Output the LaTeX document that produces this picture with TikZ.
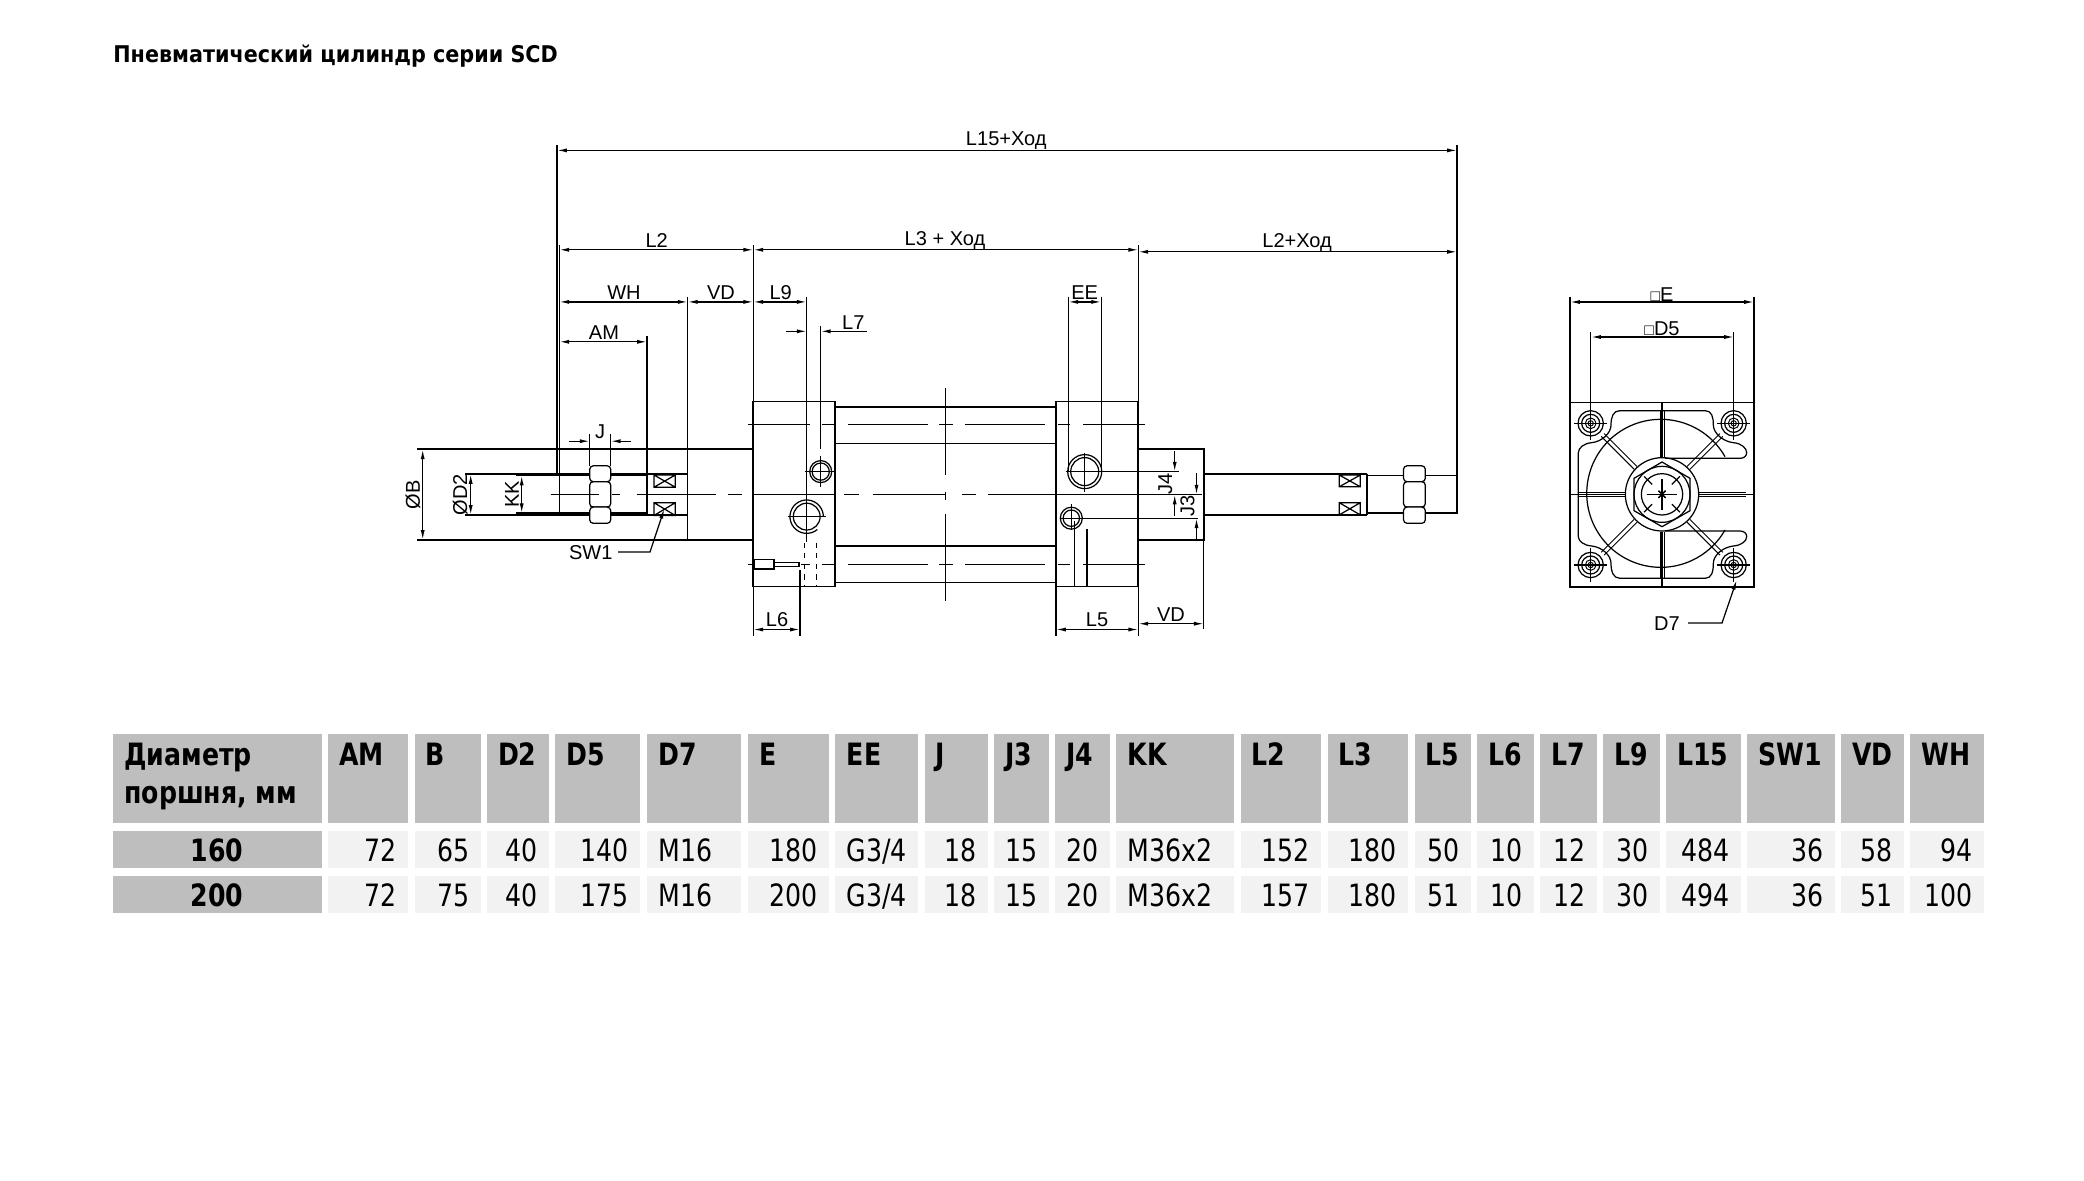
\documentclass[tikz,border=0pt]{standalone}
\usepackage{fontspec}
\setmainfont{Liberation Sans}
\newfontfamily\tablefont[FakeStretch=0.82]{DejaVu Sans}
\newfontfamily\titlefont[FakeStretch=0.9]{DejaVu Sans}
\usetikzlibrary{arrows.meta}
\newcommand{\tablesize}{\fontsize{17.5pt}{21pt}\selectfont}
\newcommand{\gthread}{G3/4}
\tikzstyle{part}=[draw,line width=0.95pt]
\tikzstyle{fine}=[draw,line width=0.7pt]
\tikzstyle{axis}=[draw,line width=0.75pt]
\tikzstyle{dim}=[draw,line width=0.7pt,{Latex[length=5.6pt,width=2.3pt]}-{Latex[length=5.6pt,width=2.3pt]}]
\tikzstyle{tip}=[draw,line width=0.7pt,-{Latex[length=5.6pt,width=2.3pt]}]
\tikzstyle{dimlabel}=[inner sep=0pt,font=\fontsize{11.4pt}{13pt}\selectfont,text height=8.1pt,text depth=0pt]
\tikzstyle{headfill}=[fill={rgb,255:red,190;green,190;blue,190}]
\tikzstyle{rowfill}=[fill={rgb,255:red,242;green,242;blue,242}]
\tikzstyle{headtext}=[anchor=base west,inner sep=0pt,font=\tablefont\tablesize\bfseries]
\tikzstyle{numtext}=[anchor=base east,inner sep=0pt,font=\tablefont\tablesize]
\tikzstyle{wordtext}=[anchor=base west,inner sep=0pt,font=\tablefont\tablesize]

\begin{document}
\begin{tikzpicture}[x=0.02cm,y=-0.02cm]
    \useasboundingbox (0,0) rectangle (2084,1180);
    \fill[white] (0,0) rectangle (2084,1180);
    \node[anchor=base west,inner sep=0pt,font=\titlefont\fontsize{13.1pt}{15pt}\selectfont\bfseries] (title) at (113,62) {Пневматический цилиндр серии SCD};

    % First we draw the body of the cylinder
    \foreach \xa/\ya/\xb/\yb in {753.3/401.6/835.3/586.5, 1056/401.6/1138.3/586.5, 1138.3/449.3/1203.8/539.9}
        \path[part] (\xa,\ya) rectangle (\xb,\yb);
    \foreach \xa/\xb/\yc in {835.3/1056/406.7, 835.3/1056/443.5, 835.3/1056/546, 835.3/1056/582.5,
        417.3/753.3/449.3, 417.3/753.3/539.9, 465/687.7/474, 465/687.7/514.9, 516/647/475.6, 516/647/513.2,
        1203.8/1366.8/474.3, 1203.8/1366.8/514.9, 1366.8/1457/475.6, 1366.8/1457/513.2,
        753.3/835.3/494.6, 1056/1201.5/494.6}
        \path[part] (\xa,\yc) -- (\xb,\yc);
    \path[part] (1366.8,474.3) -- (1366.8,514.9);

    % Nuts and wrench flats of the rod
    \foreach \xa/\xb in {589.7/610.7, 1403.5/1425.3} {
        \path[fine,fill=white,rounded corners=2pt] (\xa,465.8) rectangle (\xb,481.7);
        \path[fine,fill=white,rounded corners=2pt] (\xa,481.7) rectangle (\xb,507.1);
        \path[fine,fill=white,rounded corners=2pt] (\xa,507.1) rectangle (\xb,523.3);
    }
    \foreach \xa/\xb/\ya/\yb in {654/675.3/475/487.2, 654/675.3/502.7/515.5, 1339.2/1360.3/475/486.8, 1339.2/1360.3/502.7/514.9}
        \path[fine] (\xa,\ya) rectangle (\xb,\yb) (\xa,\ya) -- (\xb,\yb) (\xa,\yb) -- (\xb,\ya);

    % Center lines
    \foreach \xa/\xb in {550.7/599, 612.3/620, 636.7/715.7, 728.3/741.7, 844/859, 872.7/945.8, 962.3/975.7, 987.9/1056}
        \path[axis] (\xa,494.6) -- (\xb,494.6);
    \foreach \yc in {424.3,564.6}
        \foreach \xa/\xb in {848.3/927.8, 939.3/952.7, 965/1044.6, 1058/1070.2, 1082.8/1144.8, 821.7/835.3}
            \path[axis] (\xa,\yc) -- (\xb,\yc);
    \path[axis] (748.3,424.3) -- (810,424.3);
    \path[axis] (748.3,564.6) -- (757,564.6) (801,564.6) -- (810,564.6);
    \foreach \ya/\yb in {388.1/475, 491.9/500.3, 513.8/601}
        \path[axis] (945.8,\ya) -- (945.8,\yb);

    % Holes in the two caps
    \foreach \cx/\cy/\ra/\rb in {820.7/471.6/11/8.6, 1084.7/471.6/17/14, 1071.3/518.2/11/8.2}
        \path[fine] (\cx,\cy) circle[radius=\ra] (\cx,\cy) circle[radius=\rb];
    \path[fine] (806.7,516.6) circle[radius=13.4];
    \path[fine] (806.7+16.7*0.64,516.6+16.7*0.77) arc[start angle=50,end angle=360,radius=16.7];
    \foreach \xa/\ya/\xb/\yb in {805/471.6/835.3/471.6, 820.7/456.4/820.7/487, 787.7/516.6/826/516.6, 806.7/505/806.7/542,
        1065.6/471.6/1179.3/471.6, 1084.7/453/1084.7/491.9, 1059.9/518.2/1197.6/518.2, 1071.3/503.7/1071.3/529,
        1074.4/520.6/1074.4/586.5, 1087/529/1087/586.5}
        \path[fine] (\xa,\ya) -- (\xb,\yb);
    \foreach \xc in {804.7,816.7}
        \path[fine,dashed] (\xc,542.6) -- (\xc,586.5);
    \path[fine,fill=white] (754,559.5) rectangle (774,569);
    \path[fine,fill=white] (774,562.2) rectangle (799,566.2);

    % Extension lines
    \foreach \xc/\ya/\yb in {557/145.4/475, 559.3/245/513.2, 647/336.4/515, 687.7/296.5/539.9, 753.3/245/635.5, 1138.3/245/635.5,
        1457/145.4/513.8, 806.7/296.5/505, 820.7/326.2/449.3, 589.7/434.4/465.8, 610.7/434.4/465.8,
        1068.3/296.5/471.6, 1101.2/296.5/471.6, 1056/586.5/635.5, 1203.8/539.9/628.8, 800/569.6/635.5}
        \path[fine] (\xc,\ya) -- (\xc,\yb);

    % Horizontal dimensions
    \foreach \xa/\xb/\yc in {557/1457/150.4, 559.3/753.3/249.8, 753.3/1138.3/249.8, 1138.3/1457/251.8,
        559.3/687.7/301.9, 687.7/753.3/301.9, 753.3/806.7/301.9, 559.3/647/341.8, 1068.3/1101.2/301.9,
        753.3/800/629.5, 1056/1138.3/629.5, 1138.3/1203.8/623.7, 1591/1734/337, 1570/1754/302}
        \path[dim] (\xa,\yc) -- (\xb,\yc);
    % Vertical dimensions
    \foreach \xc/\ya/\yb in {422.7/449.3/539.9, 470.7/474/514.9, 521.7/475.6/513.2}
        \path[dim] (\xc,\ya) -- (\xc,\yb);
    % Dimensions with the arrows outside
    \foreach \xa/\ya/\xb/\yb in {569.3/441.2/589.7/441.2, 631/441.2/610.7/441.2, 786/331.3/806.7/331.3, 866.7/331.3/820.7/331.3,
        1174.7/451.3/1174.7/471.6, 1174.7/515.5/1174.7/494.6, 1196.5/473.3/1196.5/494.6, 1196.5/539.9/1196.5/518.2}
        \path[tip] (\xa,\ya) -- (\xb,\yb);
    % Leaders
    \path[tip] (618,552) -- (650,552) -- (664.3,508.8);
    \path[tip] (1688,623) -- (1722,623) -- (1736.7,580);

    % Labels
    \foreach \pos/\name/\txt in {{(1006.3,138.6)/lblLfifteen/L15+Ход}, {(656.7,240)/lblLtwo/L2}, {(945,238.3)/lblLthree/L3 + Ход},
        {(1297.1,240)/lblLtwostroke/L2+Ход}, {(624,292.4)/lblWH/WH}, {(721,292.4)/lblVD/VD}, {(780.7,292.4)/lblLnine/L9},
        {(853.3,322.2)/lblLseven/L7}, {(604,332.3)/lblAM/AM}, {(1084.7,292.4)/lblEE/EE}, {(600,431.7)/lblJ/J},
        {(590.7,552.7)/lblSW/SW1}, {(777,619.7)/lblLsix/L6}, {(1097,619.7)/lblLfive/L5}, {(1170.9,614.3)/lblVDrear/VD},
        {(1662,294)/lblE/\fontsize{9pt}{9pt}\selectfont □\fontsize{11.4pt}{13pt}\selectfont E},
        {(1662,328)/lblDfive/\fontsize{9pt}{9pt}\selectfont □\fontsize{11.4pt}{13pt}\selectfont D5}, {(1667,623)/lblDseven/D7}}
        \node[dimlabel] (\name) at \pos {\txt};
    \foreach \pos/\name/\txt in {{(412.7,494.6)/lblB/ØB}, {(460,494.6)/lblDtwo/ØD2}, {(511.7,494.6)/lblKK/KK},
        {(1165.1,484.4)/lblJfour/J4}, {(1187.3,506.4)/lblJthree/J3}}
        \node[dimlabel,rotate=90] (\name) at \pos {\txt};

    % End view, in the coordinates of a 3x crop
    \begin{scope}[shift={(1540,270)},scale=1/3]
        \path[part] (90,397) rectangle (642,950);
        \path[fine] (555,560) arc[start angle=-29.7,end angle=-330.3,radius=222];
        \path[fine] (366,673) circle[radius=110] (366,673) circle[radius=62] (366,673) circle[radius=84];
        \path[fine] (366,576) -- (450,625) -- (450,722) -- (366,770) -- (282,722) -- (282,625) -- cycle;
        \path[fine,line join=round] (240,422) -- (495,422) .. controls (515,422) and (520,440) .. (520,465)
            .. controls (520,490) and (550,515) .. (580,518) .. controls (605,520) and (620,535) .. (620,548)
            .. controls (620,558) and (612,565) .. (600,565) -- (375,565);
        \path[fine,line join=round] (375,783) -- (600,783) .. controls (612,783) and (620,790) .. (620,800)
            .. controls (620,813) and (605,826) .. (580,828) .. controls (550,831) and (520,855) .. (520,880)
            .. controls (520,905) and (515,925) .. (495,925) -- (240,925) .. controls (220,925) and (213,905) .. (213,880)
            .. controls (213,855) and (185,831) .. (155,828) .. controls (130,826) and (115,813) .. (115,800)
            -- (115,548) .. controls (115,535) and (130,520) .. (155,518) .. controls (185,515) and (213,490) .. (213,465)
            .. controls (213,440) and (220,422) .. (240,422);
        \path[fine] (366,397) -- (366,560) (366,785) -- (366,950) (90,673) -- (255,673) (478,673) -- (642,673);
        \path[fine] (320,673) -- (412,673) (366,627) -- (366,719);
        % Ribs and short center marks
        \foreach \ang in {0,45,...,315} {
            \begin{scope}[shift={(366,673)},rotate=\ang]
                \path[draw,line width=0.55pt] (112,-6) -- (252,-6) (112,6) -- (252,6);
            \end{scope}
        }
        \foreach \ang in {45,135,225,315} {
            \begin{scope}[shift={(366,673)},rotate=\ang]
                \path[fine] (42,0) -- (76,0) (-15,0) -- (15,0);
            \end{scope}
        }
        % Bolts
        \foreach \cx/\cy in {152/460, 581/460, 152/885, 581/885} {
            \path[fine] (\cx,\cy) circle[radius=38] (\cx,\cy) circle[radius=27];
            \path[draw,line width=0.55pt] (\cx,\cy) circle[radius=16] (\cx,\cy) circle[radius=8];
            \path[fine] (\cx-50,\cy) -- (\cx+50,\cy) (\cx,\cy-50) -- (\cx,\cy+50);
        }
        % Extension lines up to the dimensions
        \path[fine] (90,80) -- (90,397) (642,80) -- (642,397) (152,185) -- (152,410) (581,185) -- (581,410);
    \end{scope}

    % The table
    \path[headfill] (112.7,734) rectangle (321.7,823.3);
    \path[headfill] (112.7,831) rectangle (321.7,868);
    \path[headfill] (112.7,875.7) rectangle (321.7,913);
    \node[headtext] (hdiam) at (124,765.7) {Диаметр};
    \node[headtext] (hpiston) at (124,803) {поршня, мм};
    \node[headtext,anchor=base] (rowa) at (217,861.7) {160};
    \node[headtext,anchor=base] (rowb) at (217,906.7) {200};
    \foreach \xa/\xb/\head/\va/\vb in {328/408/AM/72/72, 414.7/480.7/B/65/75, 487/549/D2/40/40, 555.3/640.3/D5/140/175,
        748/828.7/E/180/200, 924.7/988/J/18/18, 994.3/1048.7/J3/15/15, 1055/1109.7/J4/20/20,
        1240.7/1321.3/L2/152/157, 1327.7/1408.3/L3/180/180, 1414.7/1471/L5/50/51, 1477.3/1534/L6/10/10,
        1540/1596.7/L7/12/12, 1603/1660/L9/30/30, 1666/1741/L15/484/494, 1747/1835/SW1/36/36,
        1841/1904/VD/58/51, 1910.3/1983.7/WH/94/100} {
        \path[headfill] (\xa,734) rectangle (\xb,823.3);
        \path[rowfill] (\xa,831) rectangle (\xb,868);
        \path[rowfill] (\xa,875.7) rectangle (\xb,913);
        \node[headtext] (h\head) at (\xa+10.7,765.7) {\head};
        \node[numtext] (a\head) at (\xb-11,861.7) {\va};
        \node[numtext] (b\head) at (\xb-11,906.7) {\vb};
    }
    \foreach \xa/\xb/\head/\va/\vb in {646.7/741.3/D7/M16/M16, 835/918/EE/\gthread/\gthread, 1116/1234.3/KK/M36x2/M36x2} {
        \path[headfill] (\xa,734) rectangle (\xb,823.3);
        \path[rowfill] (\xa,831) rectangle (\xb,868);
        \path[rowfill] (\xa,875.7) rectangle (\xb,913);
        \node[headtext] (h\head) at (\xa+11.5,765.7) {\head};
        \node[wordtext] (a\head) at (\xa+11.5,861.7) {\va};
        \node[wordtext] (b\head) at (\xa+11.5,906.7) {\vb};
    }
\end{tikzpicture}
\end{document}
